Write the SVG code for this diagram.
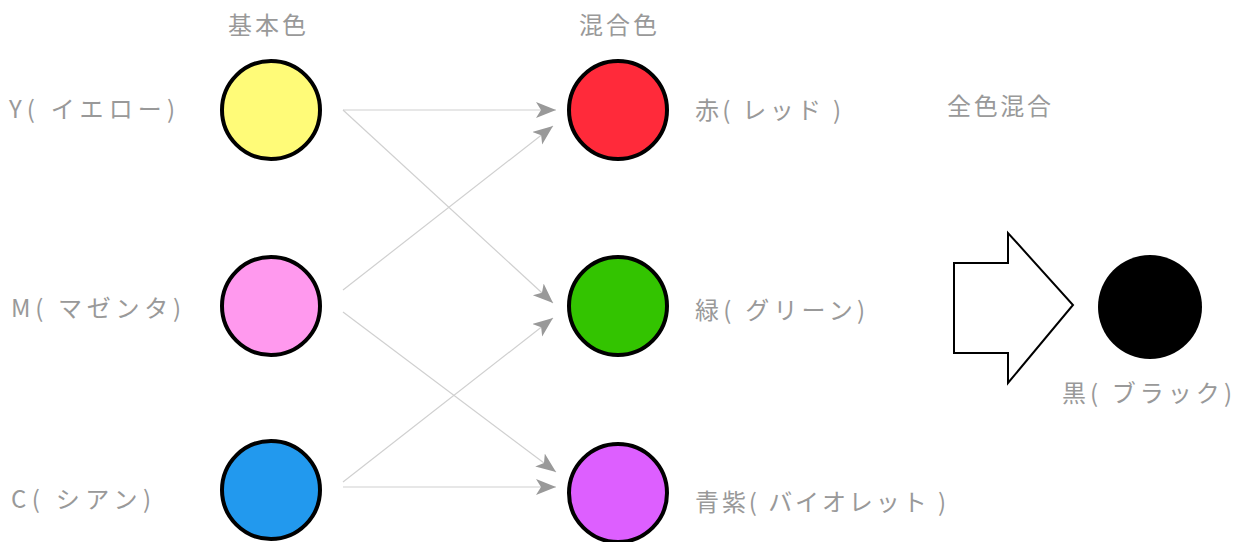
<svg xmlns="http://www.w3.org/2000/svg" width="1240" height="542" viewBox="0 0 1240 542">
<style>
.lbl{font-family:"Noto Sans CJK JP","Noto Sans",sans-serif;font-size:24px;fill:#999999}
.c{stroke:#000;stroke-width:4}
.ln{stroke:#d0d0d0;stroke-width:1.2;fill:none;marker-end:url(#ah)}
</style>
<defs>
<marker id="ah" markerUnits="userSpaceOnUse" markerWidth="22" markerHeight="18" refX="20" refY="8" orient="auto" viewBox="0 0 22 18">
<path d="M0,0 L20,8 L0,16 L5,8 Z" fill="#999"/>
</marker>
</defs>
<rect width="1240" height="542" fill="#fff"/>
<g id="headers">
<text class="lbl" x="228" y="34" textLength="78" lengthAdjust="spacing">基本色</text>
<text class="lbl" x="579" y="34" textLength="78" lengthAdjust="spacing">混合色</text>
<text class="lbl" x="947" y="115" textLength="104" lengthAdjust="spacing">全色混合</text>
</g>
<g id="connectors">
<line class="ln" x1="343" y1="110" x2="556" y2="110"/>
<line class="ln" x1="343" y1="110" x2="553" y2="303"/>
<line class="ln" x1="343" y1="290" x2="553" y2="126"/>
<line class="ln" x1="343" y1="312" x2="556" y2="472"/>
<line class="ln" x1="343" y1="482" x2="553" y2="318"/>
<line class="ln" x1="343" y1="487" x2="556" y2="487"/>
</g>
<g id="yellow"><circle class="c" cx="271" cy="110" r="49" fill="#FFFB78"/><text class="lbl" x="9" y="118" textLength="166" lengthAdjust="spacing">Y( イエロー)</text></g>
<g id="magenta"><circle class="c" cx="271" cy="306" r="49" fill="#FF99EE"/><text class="lbl" x="11" y="317" textLength="170" lengthAdjust="spacing">M( マゼンタ)</text></g>
<g id="cyan"><circle class="c" cx="271" cy="490" r="49" fill="#2299EE"/><text class="lbl" x="11" y="508" textLength="140" lengthAdjust="spacing">C( シアン)</text></g>
<g id="red"><circle class="c" cx="618" cy="110" r="49" fill="#FF2A3A"/><text class="lbl" x="695" y="119" textLength="146" lengthAdjust="spacing">赤( レッド )</text></g>
<g id="green"><circle class="c" cx="618" cy="306" r="49" fill="#33C400"/><text class="lbl" x="695" y="319" textLength="170" lengthAdjust="spacing">緑( グリーン)</text></g>
<g id="violet"><circle class="c" cx="618" cy="493" r="49" fill="#DD5FFF"/><text class="lbl" x="695" y="511" textLength="251" lengthAdjust="spacing">青紫( バイオレット )</text></g>
<g id="bigarrow"><path d="M954,263 L1008,263 L1008,233 L1073,305 L1008,383 L1008,353 L954,353 Z" fill="#fff" stroke="#000" stroke-width="2"/></g>
<g id="black"><circle cx="1150" cy="307" r="52" fill="#000"/><text class="lbl" x="1062" y="402" textLength="170" lengthAdjust="spacing">黒( ブラック)</text></g>
</svg>
